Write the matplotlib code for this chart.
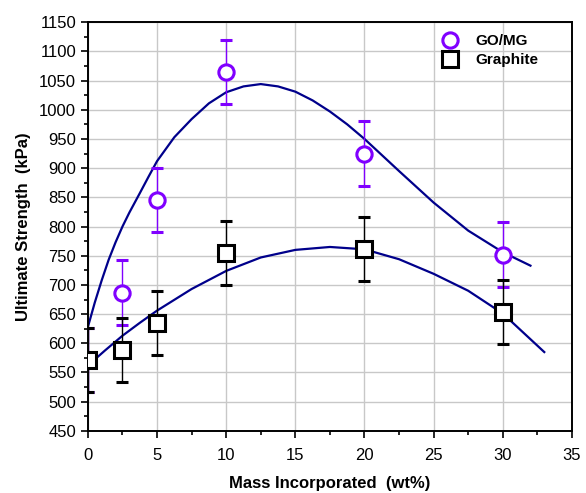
import numpy as np
import matplotlib.pyplot as plt
from matplotlib.ticker import MultipleLocator

plt.rcParams['font.family'] = ['Liberation Sans', 'DejaVu Sans']

# -----------------------------
# Data
# -----------------------------
mass = [0, 2.5, 5, 10, 20, 30]
gomg = [572, 687, 845, 1065, 925, 752]
gomg_err = [55, 55, 55, 55, 55, 55]
graphite = [572, 588, 635, 755, 762, 653]
graphite_err = [55, 55, 55, 55, 55, 55]

# fitted curves
gomg_fit_x = [0, 0.5, 1.0, 1.5, 2.0, 2.5, 3.0, 3.75, 4.4, 5, 6.25, 7.5, 8.75, 10,
              11.25, 12.5, 13.75, 15, 16.25, 17.5, 18.75, 20, 22.5, 25, 27.5, 30, 32]
gomg_fit_y = [628, 670, 708, 743, 773, 800, 824, 857, 886, 912, 953, 984, 1011, 1030,
              1040, 1044, 1040, 1031, 1016, 997, 975, 950, 895, 841, 793, 756, 733]
graph_fit_x = [0, 1.25, 2.5, 3.75, 5, 7.5, 10, 12.5, 15, 17.5, 20, 22.5, 25, 27.5, 30, 33]
graph_fit_y = [562, 588, 613, 635, 656, 693, 724, 747, 760, 765, 761, 744, 719, 690, 651, 585]

purple = "#8000ff"
navy = "#00008b"

fig = plt.figure(figsize=(5.86, 4.93), dpi=100)
ax = fig.add_axes([0.150, 0.126, 0.826, 0.829])

ax.plot(gomg_fit_x, gomg_fit_y, color=navy, lw=1.6, zorder=2)
ax.plot(graph_fit_x, graph_fit_y, color=navy, lw=1.6, zorder=2)

eb1 = ax.errorbar(mass, gomg, yerr=gomg_err, fmt="o", color=purple, ms=11,
                  mfc="white", mec=purple, mew=2.2, ecolor=purple, elinewidth=1,
                  capsize=4, capthick=1, label="GO/MG", zorder=3)
eb2 = ax.errorbar(mass, graphite, yerr=graphite_err, fmt="s", color="black", ms=11,
                  mfc="white", mec="black", mew=2.2, ecolor="black", elinewidth=1,
                  capsize=4, capthick=1, label="Graphite", zorder=4)
for eb in (eb1, eb2):
    eb[0].set_clip_on(True)
    eb[0].set_clip_path(ax.patch)

ax.set_xlim(0, 35)
ax.set_ylim(450, 1150)
ax.xaxis.set_major_locator(MultipleLocator(5))
ax.xaxis.set_minor_locator(MultipleLocator(2.5))
ax.yaxis.set_major_locator(MultipleLocator(50))
ax.yaxis.set_minor_locator(MultipleLocator(25))
ax.grid(True, which="major", color="#c8c8c8", lw=1)
ax.set_axisbelow(True)

ax.tick_params(which="major", direction="out", length=5, width=1.2, labelsize=12,
               top=False, right=False)
ax.tick_params(axis="x", which="major", pad=7)
ax.tick_params(which="minor", direction="out", length=3, width=1.2,
               top=False, right=False)
for s in ax.spines.values():
    s.set_linewidth(1.4)

ax.set_xlabel("Mass Incorporated  (wt%)", fontsize=12, fontweight="bold", labelpad=10)
ax.set_ylabel("Ultimate Strength  (kPa)", fontsize=12, fontweight="bold", labelpad=6)

handles, labels = ax.get_legend_handles_labels()
handles = [h[0] for h in handles]
ax.legend(handles, labels, loc="upper right", bbox_to_anchor=(0.955, 1.0),
          frameon=False, prop={"weight": "bold", "size": 11},
          handletextpad=0.6, labelspacing=0.3, borderaxespad=0.4)

fig.savefig("out.png", dpi=100)
